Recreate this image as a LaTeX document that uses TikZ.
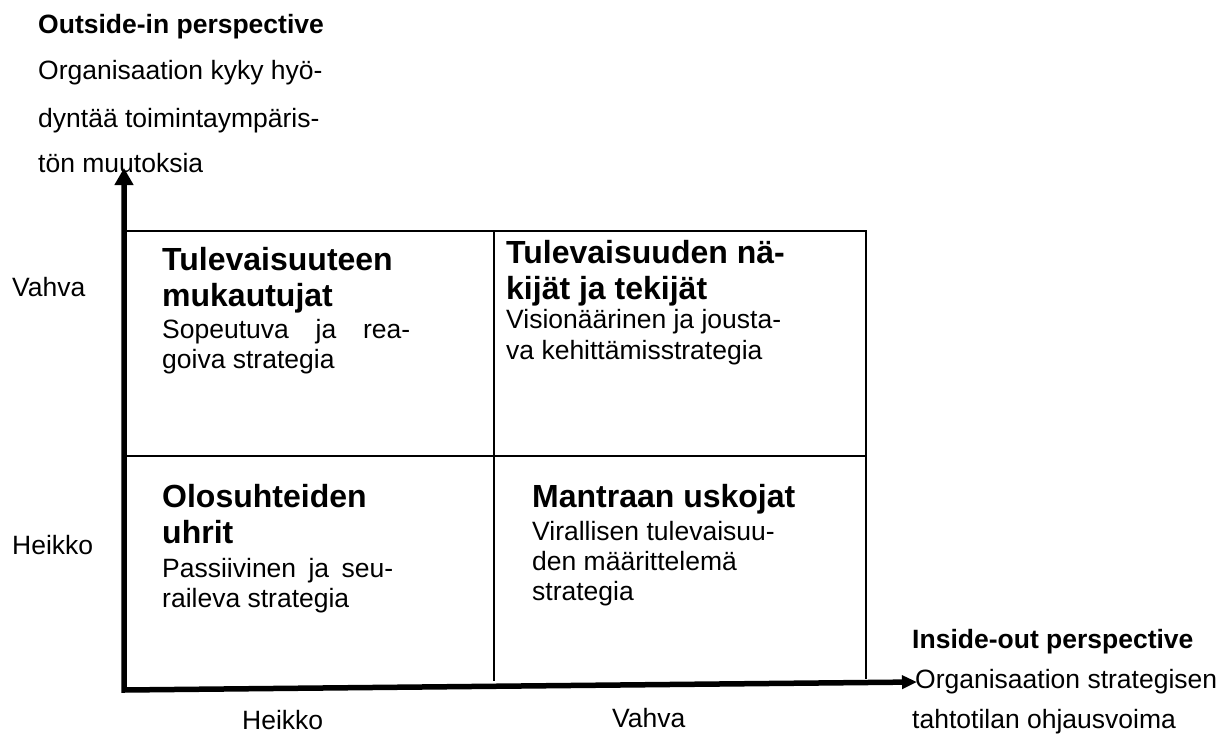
\documentclass[tikz,border=0pt]{standalone}
\usepackage{fontspec}
\setmainfont{Liberation Sans}
\usetikzlibrary{arrows.meta}
\begin{document}
\begin{tikzpicture}[x=1pt,y=-1pt,
  txt/.style={anchor=base west,inner sep=0pt,font=\fontsize{26.5}{30}\selectfont},
  hd/.style={anchor=base west,inner sep=0pt,font=\fontsize{26.5}{30}\selectfont\bfseries},
  ttl/.style={anchor=base west,inner sep=0pt,font=\fontsize{32}{36}\selectfont\bfseries},
  gridline/.style={line width=1.3pt},
  axisline/.style={line width=5.5pt,line join=miter}]
\useasboundingbox (0,0) rectangle (1227,747);
% frame
\coordinate (tl) at (124,231);
\coordinate (tr) at (866,231);
\coordinate (br) at (866,679);
\coordinate (ml) at (124,456);
\coordinate (mr) at (866,456);
\coordinate (mt) at (494,231);
\coordinate (mb) at (494,681);
\draw[gridline] (tl) -- (tr) -- (br);
\draw[gridline] (ml) -- (mr);
\draw[gridline] (mt) -- (mb);
% axes
\coordinate (ytip) at (124,168);
\coordinate (orig) at (124,690);
\coordinate (xtip) at (917,682);
\draw[axisline,{Triangle[length=17pt,width=18pt]}-{Triangle[length=15pt,width=13pt]}] (ytip) -- (orig) -- (xtip);
% top-left axis label
\node[hd] (yh) at (38,33) {Outside-in perspective};
\node[txt] (y1) at (38,79) {Organisaation kyky hyö-};
\node[txt] (y2) at (38,127) {dyntää toimintaympäris-};
\node[txt] (y3) at (38,172) {tön muutoksia};
% right axis label
\node[hd] (xh) at (912,648) {Inside-out perspective};
\node[txt] (x1) at (915,688) {Organisaation strategisen};
\node[txt] (x2) at (912,728) {tahtotilan ohjausvoima};
% scale labels
\node[txt] (lv) at (12,296) {Vahva};
\node[txt] (lh) at (12,554) {Heikko};
\node[txt] (bh) at (242,729) {Heikko};
\node[txt] (bv) at (612,727) {Vahva};
% top-left quadrant
\node[ttl] (tlt1) at (162,270) {Tulevaisuuteen};
\node[ttl] (tlt2) at (162,306) {mukautujat};
\node[txt] (tlb1) at (162,338) {\makebox[248pt][s]{Sopeutuva ja rea-}};
\node[txt] (tlb2) at (162,368) {goiva strategia};
% top-right quadrant
\node[ttl] (trt1) at (506,263) {Tulevaisuuden nä-};
\node[ttl] (trt2) at (506,299) {kijät ja tekijät};
\node[txt] (trb1) at (506,328) {Visionäärinen ja jousta-};
\node[txt] (trb2) at (506,359) {va kehittämisstrategia};
% bottom-left quadrant
\node[ttl] (blt1) at (162,507) {Olosuhteiden};
\node[ttl] (blt2) at (162,543) {uhrit};
\node[txt] (blb1) at (162,577) {\makebox[231pt][s]{Passiivinen ja seu-}};
\node[txt] (blb2) at (162,607) {raileva strategia};
% bottom-right quadrant
\node[ttl] (brt1) at (532,507) {Mantraan uskojat};
\node[txt] (brb1) at (532,540) {Virallisen tulevaisuu-};
\node[txt] (brb2) at (532,570) {den määrittelemä};
\node[txt] (brb3) at (532,600) {strategia};
\end{tikzpicture}
\end{document}
